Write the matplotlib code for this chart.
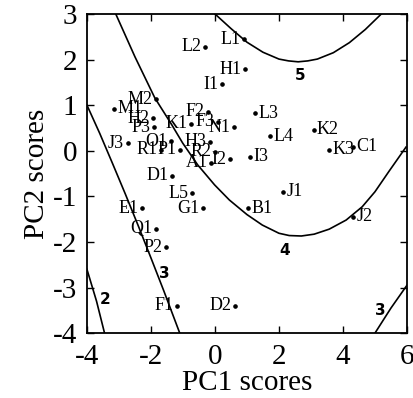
import numpy as np
import matplotlib
matplotlib.use("Agg")
import matplotlib.pyplot as plt

plt.rcParams['font.family'] = ['Liberation Serif', 'DejaVu Serif']
plt.rcParams['axes.unicode_minus'] = False

# sample scores (PC1, PC2)
names = ['L1', 'L2', 'H1', 'I1', 'M2', 'M1', 'H2', 'P3', 'F2', 'K1', 'F3', 'N1',
         'L3', 'L4', 'K2', 'K3', 'C1', 'J3', 'O1', 'R1', 'P1', 'H3', 'R2', 'A1',
         'I2', 'I3', 'D1', 'L5', 'E1', 'G1', 'B1', 'J1', 'J2', 'Q1', 'P2', 'F1', 'D2']
pc1 = [0.90, -0.32, 0.95, 0.21, -1.85, -3.15, -1.93, -1.91, -0.22, -0.74, 0.09, 0.58,
       1.26, 1.72, 3.08, 3.55, 4.30, -2.73, -1.38, -1.69, -1.10, -0.15, -0.01, -0.12,
       0.47, 1.10, -1.34, -0.71, -2.27, -0.38, 1.03, 2.14, 4.32, -1.85, -1.52, -1.19, 0.63]
pc2 = [2.44, 2.28, 1.79, 1.46, 1.13, 0.92, 0.71, 0.52, 0.86, 0.59, 0.64, 0.52,
       0.82, 0.32, 0.46, 0.02, 0.09, 0.16, 0.21, 0.02, 0.02, 0.20, -0.02, -0.26,
       -0.19, -0.13, -0.55, -0.93, -1.26, -1.26, -1.26, -0.90, -1.45, -1.71, -2.12, -3.40, -3.40]
# labels written to the right of the dot
right_side = ['M1', 'L3', 'L4', 'K2', 'K3', 'C1', 'I3', 'B1', 'J1', 'J2']

# contour lines
c5_x = [0.0, 0.5, 1.0, 1.5, 2.0, 2.3, 2.6, 2.9, 3.2, 3.7, 4.2, 4.7, 5.2]
c5_y = [3.0, 2.68, 2.38, 2.16, 2.01, 1.97, 1.95, 1.97, 2.01, 2.15, 2.37, 2.66, 3.0]
c4_x = [-3.10, -2.50, -1.88, -1.35, -1.01, -0.54, -0.01, 0.45, 1.00, 1.48,
        2.00, 2.32, 2.70, 3.10, 3.57, 4.10, 4.60, 5.00, 5.44, 5.97]
c4_y = [3.00, 2.06, 1.16, 0.57, 0.17, -0.31, -0.75, -1.08, -1.40, -1.63,
        -1.81, -1.86, -1.87, -1.83, -1.72, -1.52, -1.23, -0.90, -0.45, 0.08]
c3a_x = [-4.0, -3.6, -3.2, -2.8, -2.4, -2.0, -1.6, -1.1]
c3a_y = [1.0, 0.38, -0.28, -0.95, -1.64, -2.35, -3.07, -4.0]
c3b_x = [5.0, 5.5, 6.0]
c3b_y = [-4.0, -3.45, -2.95]
c2_x = [-4.0, -3.7, -3.45]
c2_y = [-2.6, -3.3, -4.0]
curve_text = ['5', '4', '3', '3', '2']
curve_tx = [2.65, 2.17, -1.57, 5.18, -3.44]
curve_ty = [1.66, -2.18, -2.69, -3.5, -3.27]

fig = plt.figure(figsize=(4.14, 3.98), dpi=100)
ax = fig.add_axes([0.210, 0.163, 0.773, 0.802])

for cx, cy in [(c5_x, c5_y), (c4_x, c4_y), (c3a_x, c3a_y), (c3b_x, c3b_y), (c2_x, c2_y)]:
    ax.plot(cx, cy, color='black', lw=1.2)
for t, x, y in zip(curve_text, curve_tx, curve_ty):
    ax.text(x, y, t, fontsize=11, fontweight='bold', ha='center', va='center',
            family=['Liberation Sans Narrow', 'DejaVu Sans'])

ax.plot(pc1, pc2, 'o', color='black', markersize=2.3)
for n, x, y in zip(names, pc1, pc2):
    if n in right_side:
        ax.annotate(n, (x, y), xytext=(2.5, 0), textcoords='offset points',
                    ha='left', va='center', fontsize=13)
    else:
        ax.annotate(n, (x, y), xytext=(-2.5, 0), textcoords='offset points',
                    ha='right', va='center', fontsize=13)

ax.set_xlim(-4, 6)
ax.set_ylim(-4, 3)
ax.set_xticks([-4, -2, 0, 2, 4, 6])
ax.set_yticks([-4, -3, -2, -1, 0, 1, 2, 3])
ax.tick_params(direction='in', top=True, right=True, length=5, width=1,
               labelsize=21)
ax.tick_params(axis='x', pad=8)
ax.tick_params(axis='y', pad=7)
for s in ax.spines.values():
    s.set_linewidth(1.3)
ax.set_xlabel('PC1 scores', fontsize=21, labelpad=0)
ax.set_ylabel('PC2 scores', fontsize=21, labelpad=2)

fig.savefig('out.png', dpi=100)
